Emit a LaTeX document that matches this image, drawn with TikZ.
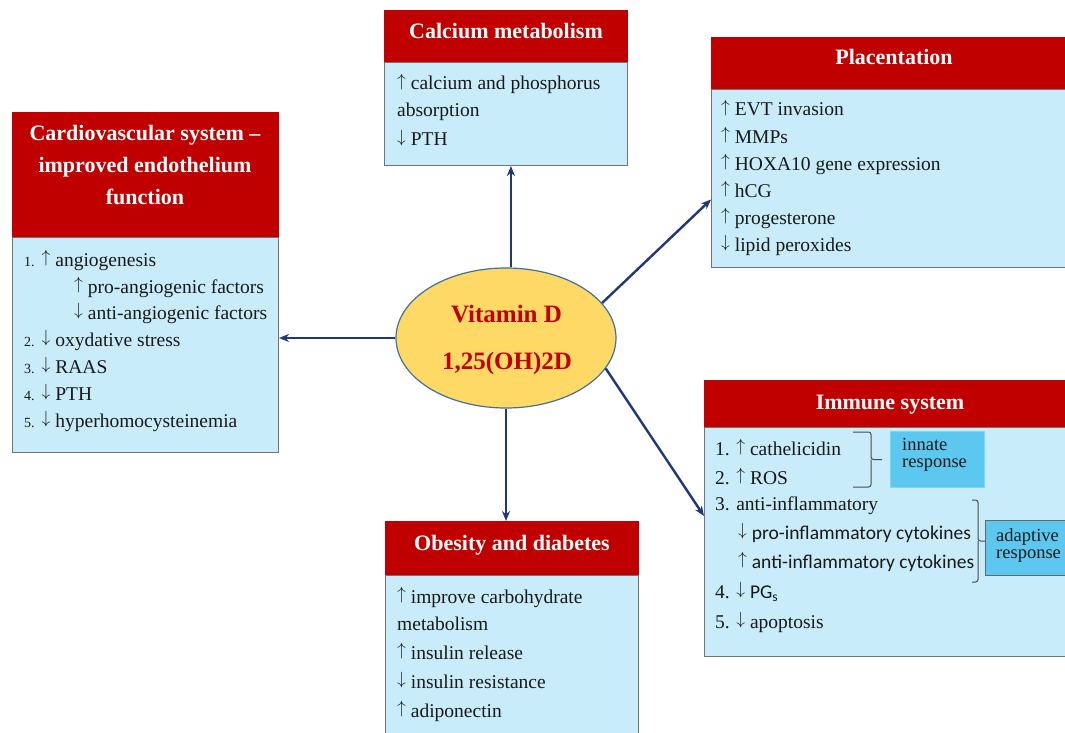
\documentclass[tikz,border=0pt]{standalone}
\usepackage{fontspec}
\usepackage{graphicx}
\setmainfont{Liberation Serif}
\newfontfamily\calfont{Carlito}
\usetikzlibrary{shapes.geometric,arrows.meta}
\definecolor{hred}{RGB}{192,0,0}
\definecolor{lblue}{RGB}{200,236,250}
\definecolor{rblue}{RGB}{92,200,240}
\definecolor{rbord}{RGB}{130,212,244}
\definecolor{ellfill}{RGB}{255,217,102}
\definecolor{ellbord}{RGB}{65,113,156}
\definecolor{navy}{RGB}{31,56,120}
\definecolor{txt}{RGB}{25,25,25}
\definecolor{vdred}{RGB}{192,0,0}
\newcommand{\upar}{\raisebox{0.155em}{\scalebox{0.85}{$\uparrow$}}}
\newcommand{\dnar}{\raisebox{0.155em}{\scalebox{0.85}{$\downarrow$}}}
\tikzset{
  hdr/.style={rectangle, fill=hred, draw=hred, line width=0.8pt, inner sep=0pt, anchor=north west},
  bodybox/.style={rectangle, fill=lblue, draw=black!55, line width=1pt, inner sep=0pt, anchor=north west},
  respbox/.style={rectangle, fill=rblue, draw=rbord, line width=1.2pt, inner sep=0pt, anchor=north west},
  htxt/.style={anchor=base, inner sep=0pt, text=white, font=\bfseries\fontsize{22}{24}\selectfont},
  btxt/.style={anchor=base west, inner sep=0pt, text=txt, font=\fontsize{19.5}{22}\selectfont},
  rtxt/.style={anchor=base west, inner sep=0pt, text=txt, align=left, font=\fontsize{18.5}{16.5}\selectfont},
  arr/.style={draw=navy, line width=2.4pt, -{Stealth[length=10pt,width=8pt]}},
  brace/.style={draw=black!70, line width=1pt, rounded corners=2.5pt},
}
\newcommand{\numsm}[1]{{\fontsize{14}{16}\selectfont #1}}
\begin{document}
\begin{tikzpicture}[x=1pt,y=-1pt]
\useasboundingbox (0,0) rectangle (1065,733);
\clip (0,0) rectangle (1065,733);
\fill[white] (0,0) rectangle (1065,733);

% ---------- Calcium metabolism ----------
\node[hdr, minimum width=243pt, minimum height=52pt] (calh) at (384,10) {};
\node[bodybox, minimum width=243pt, minimum height=103pt] (calb) at (384,62) {};
\node[htxt] (calt) at (506,39) {Calcium metabolism};
\node[btxt] (cal1) at (397,90) {\upar\ calcium and phosphorus};
\node[btxt] (cal2) at (397,117) {absorption};
\node[btxt] (cal3) at (397,146) {\dnar\ PTH};

% ---------- Placentation ----------
\node[hdr, minimum width=370pt, minimum height=52pt] (plh) at (711,37) {};
\node[bodybox, minimum width=370pt, minimum height=178pt] (plb) at (711,89) {};
\node[htxt] (plt) at (894,65) {Placentation};
\node[btxt] (pl1) at (721,116) {\upar\ EVT invasion};
\node[btxt] (pl2) at (721,143) {\upar\ MMPs};
\node[btxt] (pl3) at (721,170) {\upar\ HOXA10 gene expression};
\node[btxt] (pl4) at (721,197) {\upar\ hCG};
\node[btxt] (pl5) at (721,224) {\upar\ progesterone};
\node[btxt] (pl6) at (721,251) {\dnar\ lipid peroxides};

% ---------- Cardiovascular ----------
\node[hdr, minimum width=266pt, minimum height=125pt] (cvh) at (12,112) {};
\node[bodybox, minimum width=266pt, minimum height=215pt] (cvb) at (12,237) {};
\node[htxt] (cvt1) at (145,140) {Cardiovascular system –};
\node[htxt] (cvt2) at (145,172) {improved endothelium};
\node[htxt] (cvt3) at (145,204) {function};
\node[btxt] (cv1) at (24,266) {\numsm{1.}\hspace{7pt}\upar\ angiogenesis};
\node[btxt] (cv1a) at (74,293) {\upar\ pro-angiogenic factors};
\node[btxt] (cv1b) at (74,319) {\dnar\ anti-angiogenic factors};
\node[btxt] (cv2) at (24,346) {\numsm{2.}\hspace{7pt}\dnar\ oxydative stress};
\node[btxt] (cv3) at (24,373) {\numsm{3.}\hspace{7pt}\dnar\ RAAS};
\node[btxt] (cv4) at (24,400) {\numsm{4.}\hspace{7pt}\dnar\ PTH};
\node[btxt] (cv5) at (24,427) {\numsm{5.}\hspace{7pt}\dnar\ hyperhomocysteinemia};

% ---------- Obesity and diabetes ----------
\node[hdr, minimum width=253pt, minimum height=54pt] (obh) at (385,521) {};
\node[bodybox, minimum width=253pt, minimum height=180pt] (obb) at (385,575) {};
\node[htxt] (obt) at (512,550) {Obesity and diabetes};
\node[btxt] (ob1) at (397,603) {\upar\ improve carbohydrate};
\node[btxt] (ob2) at (397,630) {metabolism};
\node[btxt] (ob3) at (397,659) {\upar\ insulin release};
\node[btxt] (ob4) at (397,688) {\dnar\ insulin resistance};
\node[btxt] (ob5) at (397,717) {\upar\ adiponectin};

% ---------- Immune system ----------
\node[hdr, minimum width=380pt, minimum height=47pt] (imh) at (704,380) {};
\node[bodybox, minimum width=380pt, minimum height=229pt] (imb) at (704,427) {};
\node[htxt] (imt) at (890,409) {Immune system};
\node[btxt] (im1) at (715,455) {1. \upar\ cathelicidin};
\node[btxt] (im2) at (715,484) {2. \upar\ ROS};
\node[btxt] (im3) at (715,510) {3. anti-inflammatory};
\node[btxt] (im3a) at (738,539) {\dnar\ {\calfont pro-inflammatory cytokines}};
\node[btxt] (im3b) at (738,568) {\upar\ {\calfont anti-inflammatory cytokines}};
\node[btxt] (im4) at (715,598) {4. \dnar\ {\calfont PG\textsubscript{s}}};
\node[btxt] (im5) at (715,628) {5. \dnar\ apoptosis};

% braces
\draw[brace] (853,432) -- (871,432) -- (871,459.5) -- (882,459.5);
\draw[brace] (871,459.5) -- (871,487) -- (853,487);
\draw[brace] (972,500) -- (978,500) -- (978,541) -- (986,541);
\draw[brace] (978,541) -- (978,582) -- (972,582);

% response boxes
\node[respbox, minimum width=94pt, minimum height=56pt] (inn) at (890,431) {};
\node[rtxt] (innt) at (902,467) {innate\\response};
\node[respbox, draw=black!60, minimum width=90pt, minimum height=55pt] (adp) at (985,520) {};
\node[rtxt] (adpt) at (996,558) {adaptive\\response};

% ---------- Vitamin D ----------
\node[ellipse, fill=ellfill, draw=ellbord, line width=1.2pt, minimum width=220pt, minimum height=140pt, inner sep=0pt] (vd) at (506,338) {};
\node[anchor=base, inner sep=0pt, text=vdred, font=\bfseries\fontsize{25}{28}\selectfont] (vdt1) at (506.5,322) {Vitamin D};
\node[anchor=base, inner sep=0pt, text=vdred, font=\bfseries\fontsize{25}{28}\selectfont] (vdt2) at (507,369) {1,25(OH)2D};

% ---------- connectors ----------
\draw[arr] (vd.86) -- (vd.86 |- calb.south);
\draw[arr] (vd.west) -- (cvb.east |- vd.west);
\draw[arr] (vd.20) -- ([yshift=-21pt]plb.west);
\draw[arr] (vd.-17) -- ([yshift=26pt]imb.west);
\draw[arr] (vd.south) -- (vd.south |- obh.north);
\end{tikzpicture}
\end{document}
